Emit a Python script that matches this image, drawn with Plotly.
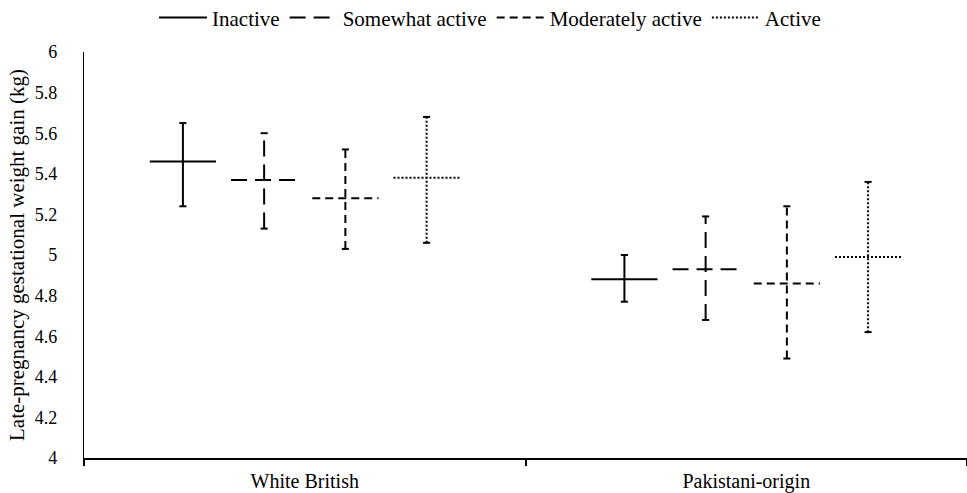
import plotly.graph_objects as go

groups = ["White British", "Pakistani-origin"]
series = ["Inactive", "Somewhat active", "Moderately active", "Active"]
means = {
    "Inactive": [5.46, 4.88],
    "Somewhat active": [5.37, 4.93],
    "Moderately active": [5.28, 4.86],
    "Active": [5.38, 4.99],
}
lower = {
    "Inactive": [5.24, 4.77],
    "Somewhat active": [5.13, 4.68],
    "Moderately active": [5.03, 4.49],
    "Active": [5.06, 4.62],
}
upper = {
    "Inactive": [5.65, 5.00],
    "Somewhat active": [5.60, 5.19],
    "Moderately active": [5.52, 5.24],
    "Active": [5.68, 5.36],
}
y_ticks = [4, 4.2, 4.4, 4.6, 4.8, 5, 5.2, 5.4, 5.6, 5.8, 6]
y_title = "Late-pregnancy gestational weight gain (kg)"

dashes = ["solid", "16px,8px", "8px,5px", "2px,2px"]
spacing = 0.184
half = 0.075
cap = 0.008
FONT = "Times New Roman, Liberation Serif, DejaVu Serif, serif"

fig = go.Figure()
n = len(series)
for i, s in enumerate(series):
    off = (i - (n - 1) / 2) * spacing
    xs, ys, cx, cy = [], [], [], []
    for g in range(len(groups)):
        c = g + off
        m, lo, hi = means[s][g], lower[s][g], upper[s][g]
        xs += [c - half, c + half, None, c, c, None]
        ys += [m, m, None, lo, hi, None]
        cx += [c - cap, c + cap, None, c - cap, c + cap, None]
        cy += [lo, lo, None, hi, hi, None]
    fig.add_trace(go.Scatter(
        x=xs, y=ys, mode="lines", name=s,
        line=dict(color="black", width=2, dash=dashes[i]),
        hoverinfo="skip",
    ))
    fig.add_trace(go.Scatter(
        x=cx, y=cy, mode="lines", showlegend=False,
        line=dict(color="black", width=2), hoverinfo="skip",
    ))

fig.update_layout(
    width=967, height=493,
    margin=dict(l=84, r=0, t=52, b=35, autoexpand=False),
    paper_bgcolor="white", plot_bgcolor="white",
    font=dict(family=FONT, size=21, color="black"),
    showlegend=True,
    legend=dict(orientation="h", x=(490 - 84) / 883, xanchor="center", y=1.084, yanchor="middle",
                itemwidth=48, font=dict(family=FONT, size=21), bgcolor="rgba(0,0,0,0)"),
    xaxis=dict(
        range=[-0.5, len(groups) - 0.5], tickvals=list(range(len(groups))), ticktext=groups,
        showgrid=False, zeroline=False, showline=True, linecolor="black", linewidth=2,
        ticks="", ticklabelstandoff=4,
        minor=dict(tickmode="array", tickvals=[g - 0.5 for g in range(len(groups) + 1)],
                   ticks="outside", ticklen=6, tickcolor="black", tickwidth=1.5, showgrid=False),
        tickfont=dict(family=FONT, size=20),
    ),
    yaxis=dict(
        range=[4, 6], tickvals=y_ticks, ticktext=[f"{v:g}" for v in y_ticks],
        showgrid=False, zeroline=False, showline=True, linecolor="black", linewidth=1.3,
        ticks="", ticklabelstandoff=22,
        title=dict(text=y_title, font=dict(family=FONT, size=21), standoff=4),
        tickfont=dict(family=FONT, size=18),
    ),
)
fig.write_html("out.html", config={"displayModeBar": False},
               post_script="document.body.style.margin='0';document.body.style.overflow='hidden';")
